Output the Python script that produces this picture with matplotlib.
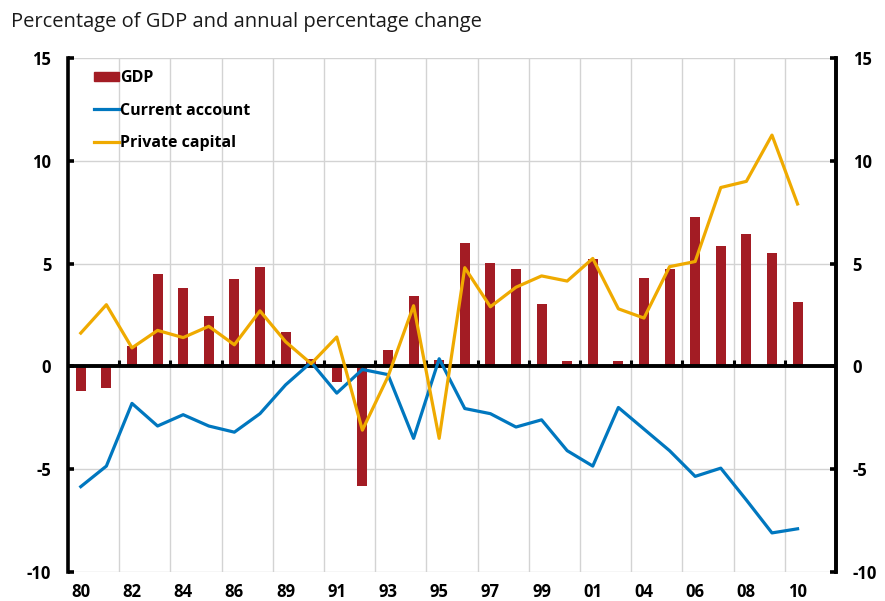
import matplotlib
matplotlib.use("Agg")
import matplotlib.pyplot as plt
from matplotlib.lines import Line2D
from matplotlib.patches import Patch
import numpy as np

# category labels (30 slots, last one empty), labels shown every other slot
years = ["80", "81", "82", "83", "84", "85", "86", "88", "89", "90",
         "91", "92", "93", "94", "95", "96", "97", "98", "99", "00",
         "01", "03", "04", "05", "06", "07", "08", "09", "10", ""]

gdp = [-1.2, -1.05, 1.0, 4.5, 3.8, 2.45, 4.25, 4.85, 1.65, 0.35,
       -0.75, -5.8, 0.78, 3.4, 0.3, 6.0, 5.05, 4.75, 3.05, 0.26,
       5.2, 0.24, 4.3, 4.75, 7.25, 5.85, 6.45, 5.5, 3.15]

current_account = [-5.85, -4.85, -1.8, -2.9, -2.35, -2.9, -3.2, -2.3, -0.9, 0.2,
                   -1.3, -0.15, -0.4, -3.5, 0.37, -2.05, -2.3, -2.95, -2.6, -4.1,
                   -4.85, -2.0, -3.05, -4.1, -5.35, -4.95, -6.5, -8.1, -7.9]

private_capital = [1.62, 3.0, 0.9, 1.75, 1.4, 1.95, 1.05, 2.7, 1.2, 0.13,
                   1.43, -3.1, -0.5, 2.95, -3.5, 4.8, 2.9, 3.85, 4.4, 4.15,
                   5.25, 2.8, 2.35, 4.85, 5.1, 8.7, 9.0, 11.25, 7.9]

yticks = [-10, -5, 0, 5, 10, 15]

red = "#A31C24"
blue = "#0077BF"
orange = "#EFAA00"

plt.rcParams["font.family"] = ["Open Sans", "DejaVu Sans"]

fig = plt.figure(figsize=(8.85, 6.01), dpi=100)
ax = fig.add_axes([0.0768, 0.0483, 0.8678, 0.8552])

x = np.arange(len(gdp))
ax.bar(x, gdp, width=0.39, color=red, zorder=3)
ax.axhline(0, color="black", lw=2.8, zorder=3.5)
ax.plot(x, current_account, color=blue, lw=2.3, zorder=4)
ax.plot(x, private_capital, color=orange, lw=2.3, zorder=5)

ymin, ymax = -10, 15
ax.set_xlim(-0.5, len(years) - 0.5)
ax.set_ylim(ymin, ymax)

# gridlines
bounds = np.arange(1.5, len(years) - 1, 2)
for yv in yticks:
    if yv != 0:
        ax.axhline(yv, color="#D3D3D3", lw=1, zorder=1)
for xv in bounds:
    ax.axvline(xv, color="#D3D3D3", lw=1, zorder=1)

# small tick marks on the zero line at category boundaries
ax.vlines(bounds, 0, 0.3, color="black", lw=2.2, zorder=3.5)

# category labels
ax.set_xticks(x[::2])
ax.set_xticklabels(years[::2][:len(x[::2])], fontsize=12, fontweight="bold")
ax.tick_params(axis="x", length=0, pad=8)

for s in ["top", "bottom"]:
    ax.spines[s].set_visible(False)
ax.spines["left"].set_linewidth(2.6)
ax.spines["right"].set_linewidth(2.6)
ax.set_yticks(yticks)
ax.set_yticklabels([str(v) for v in yticks], fontsize=12, fontweight="bold")
ax.tick_params(axis="y", direction="in", length=4, width=2.6, pad=12)

ax2 = ax.twinx()
ax2.set_ylim(ymin, ymax)
ax2.set_yticks(yticks)
ax2.set_yticklabels([str(v) for v in yticks], fontsize=12, fontweight="bold")
ax2.tick_params(axis="y", direction="in", length=4, width=2.6, pad=12)
for s in ["top", "bottom", "left"]:
    ax2.spines[s].set_visible(False)
ax2.spines["right"].set_linewidth(2.6)

handles = [Patch(color=red), Line2D([], [], color=blue, lw=2.3),
           Line2D([], [], color=orange, lw=2.3)]
leg = ax.legend(handles, ["GDP", "Current account", "Private capital"],
                loc="upper left", bbox_to_anchor=(0.015, 1.005), frameon=False,
                prop={"weight": "bold", "size": 11.5}, handlelength=1.6,
                handleheight=0.5, handletextpad=0.05, labelspacing=1.05)
leg.set_zorder(10)

fig.text(0.012, 0.955, "Percentage of GDP and annual percentage change",
         fontsize=14.5, color="#1a1a1a")

fig.savefig("out.png", dpi=100)
